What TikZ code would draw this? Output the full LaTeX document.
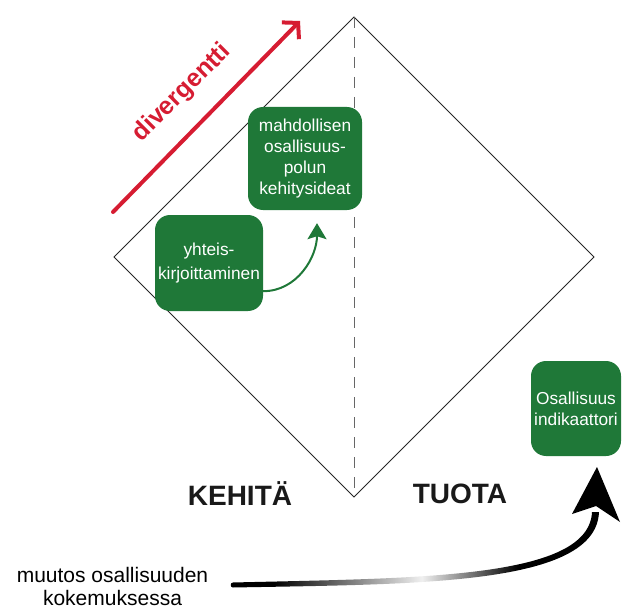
\documentclass[tikz,border=0pt]{standalone}
\usepackage{fontspec}
\setmainfont{Liberation Sans}
\usetikzlibrary{arrows.meta,calc}
\definecolor{boxgreen}{RGB}{31,120,56}
\definecolor{divred}{RGB}{214,28,50}
\pgfdeclarehorizontalshading{blackfade}{100bp}{color(0bp)=(black); color(31bp)=(black); color(51bp)=(black!6); color(64bp)=(black); color(100bp)=(black)}
\begin{document}
\begin{tikzpicture}[x=1pt,y=-1pt,
  gbox/.style={rectangle,rounded corners=15pt,fill=boxgreen,text=white,align=center,inner sep=0pt,
    font=\fontsize{17.3}{21}\selectfont},
  bigword/.style={font=\fontsize{28}{32}\selectfont\bfseries,text=black!90},
  edgeline/.style={draw=black!85,line width=0.9pt},
  midline/.style={draw=black!60,line width=1pt,dash pattern=on 11pt off 9pt},
  garrow/.style={draw=boxgreen,line width=2pt,-{Stealth[length=16pt,width=19pt,inset=3pt]}},
  rarrow/.style={draw=divred,line width=4pt,line cap=round,-{Straight Barb[length=11pt,width=24pt,line width=4pt]}}
]
\useasboundingbox (0,0) rectangle (622,610);
% diamond
\coordinate (T) at (354,17);
\coordinate (L) at (114,257);
\coordinate (B) at (354,497);
\coordinate (R) at (594,257);
\draw[edgeline,line join=miter] (T) -- (L) -- (B) -- (R) -- cycle;
\draw[midline] (T) -- (B);
% red arrow
\coordinate (rs) at (113,212);
\coordinate (re) at (300,21);
\draw[rarrow] (rs) -- (re);
\node[rotate=45,text=divred,font=\fontsize{25}{28}\selectfont\bfseries] (div) at (182,93) {divergentti};
% boxes
\node[gbox,minimum width=114pt,minimum height=103pt] (b1) at (305,158.5) {mahdollisen\\osallisuus-\\polun\\kehitysideat};
\node[gbox,minimum width=108pt,minimum height=96pt,font=\fontsize{17.3}{24}\selectfont] (b2) at (209,263) {yhteis-\\kirjoittaminen};
\node[gbox,minimum width=90pt,minimum height=95pt] (b3) at (576,408.5) {Osallisuus\\indikaattori};
% green arrow
\draw[garrow] ([yshift=20pt]b2.south east) to[out=0,in=-90] ([xshift=12pt,yshift=-13pt]b1.south);
% labels
\node[bigword] (keh) at (240,494) {KEHITÄ};
\node[bigword] (tuo) at (460,494) {TUOTA};
\node[align=center,font=\fontsize{21}{23}\selectfont] (muu) at (112.5,586.5) {muutos osallisuuden\\kokemuksessa};
% black gradient arrow
\coordinate (as) at (233,585);
\coordinate (at) at (597,467);
\shade[shading=blackfade]
  (233,582.5) .. controls (420,578) and (589,579) .. (592,512)
  -- (599,512) .. controls (596,585.5) and (420,584) .. (233,587.5)
  .. controls (230,587.5) and (230,582.5) .. (233,582.5) -- cycle;
\fill[black] (at) -- (620,522) -- (596,506) -- (572,514) -- cycle;
\end{tikzpicture}
\end{document}
